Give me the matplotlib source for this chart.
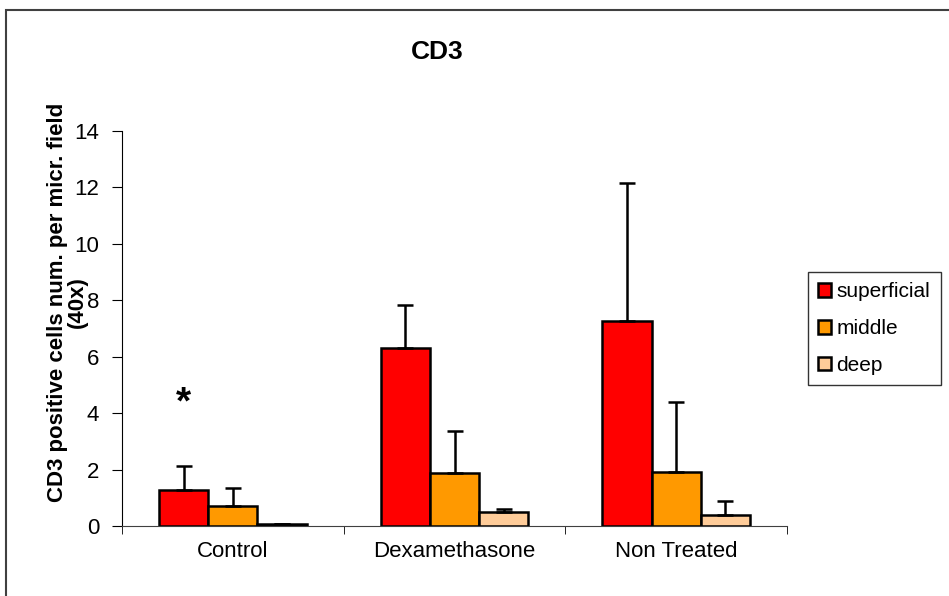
import matplotlib.pyplot as plt
import numpy as np
from matplotlib.patches import Rectangle

plt.rcParams['font.family'] = ['Liberation Sans', 'DejaVu Sans']

# Data
groups = ['Control', 'Dexamethasone', 'Non Treated']
layers = ['superficial', 'middle', 'deep']
superficial = [1.27, 6.31, 7.28]
superficial_err = [0.87, 1.53, 4.88]
middle = [0.72, 1.89, 1.93]
middle_err = [0.63, 1.49, 2.48]
deep = [0.06, 0.49, 0.39]
deep_err = [0.02, 0.11, 0.51]

colors = ['#FF0000', '#FF9900', '#FFCC99']

fig = plt.figure(figsize=(9.49, 5.96), dpi=100)
ax = fig.add_axes([0.1286, 0.1174, 0.7007, 0.6628])

x = np.arange(len(groups))
w = 0.222
series = [(superficial, superficial_err), (middle, middle_err), (deep, deep_err)]
for i, (vals, errs) in enumerate(series):
    ax.bar(x + (i - 1) * w, vals, w, color=colors[i], edgecolor='black',
           linewidth=1.8, label=layers[i],
           yerr=[np.zeros(len(errs)), errs],
           error_kw=dict(ecolor='black', elinewidth=1.8, capsize=6, capthick=1.8))

# significance mark
ax.text(x[0] - w, 4.35, '*', ha='center', va='center', fontsize=28, fontweight='bold')

ax.set_xlim(-0.5, 2.5)
ax.set_ylim(0, 14)
ax.set_yticks(range(0, 15, 2))
ax.set_xticks(x)
ax.set_xticklabels(groups, fontsize=16)
ax.set_xticks([-0.5, 0.5, 1.5, 2.5], minor=True)
ax.tick_params(axis='x', which='major', length=0, pad=11)
ax.tick_params(axis='x', which='minor', length=6, direction='out')
ax.tick_params(axis='y', labelsize=16, length=7, direction='out', pad=9.5)
ax.spines['top'].set_visible(False)
ax.spines['right'].set_visible(False)
ax.spines['left'].set_color('black')
ax.spines['bottom'].set_color('#404040')

fig.text(0.4605, 0.913, 'CD3', ha='center', va='center', fontsize=19, fontweight='bold')
# y label drawn as two lines, the second one sits over the tick labels as in the original
fig.text(57.5 / 949, 0.493, 'CD3 positive cells num. per micr. field', rotation=90,
         ha='center', va='center', fontsize=16, fontweight='bold')
fig.text(77.5 / 949, 0.493, '(40x)', rotation=90,
         ha='center', va='center', fontsize=16, fontweight='bold')

leg = ax.legend(loc='upper left', bbox_to_anchor=(808 / 949, 1 - 272 / 596),
                bbox_transform=fig.transFigure, borderaxespad=0, fontsize=15,
                frameon=True, fancybox=False, edgecolor='black',
                handlelength=0.62, handleheight=0.62, handletextpad=0.25,
                labelspacing=0.85, borderpad=0.5)
leg.get_frame().set_linewidth(1.0)

# outer chart border
fig.patches.append(Rectangle((6 / 949, -0.1), 1.1, 1.1 - 10 / 596, transform=fig.transFigure,
                             fill=False, edgecolor='#404040', linewidth=1.5))

fig.savefig('out.png', dpi=100)
